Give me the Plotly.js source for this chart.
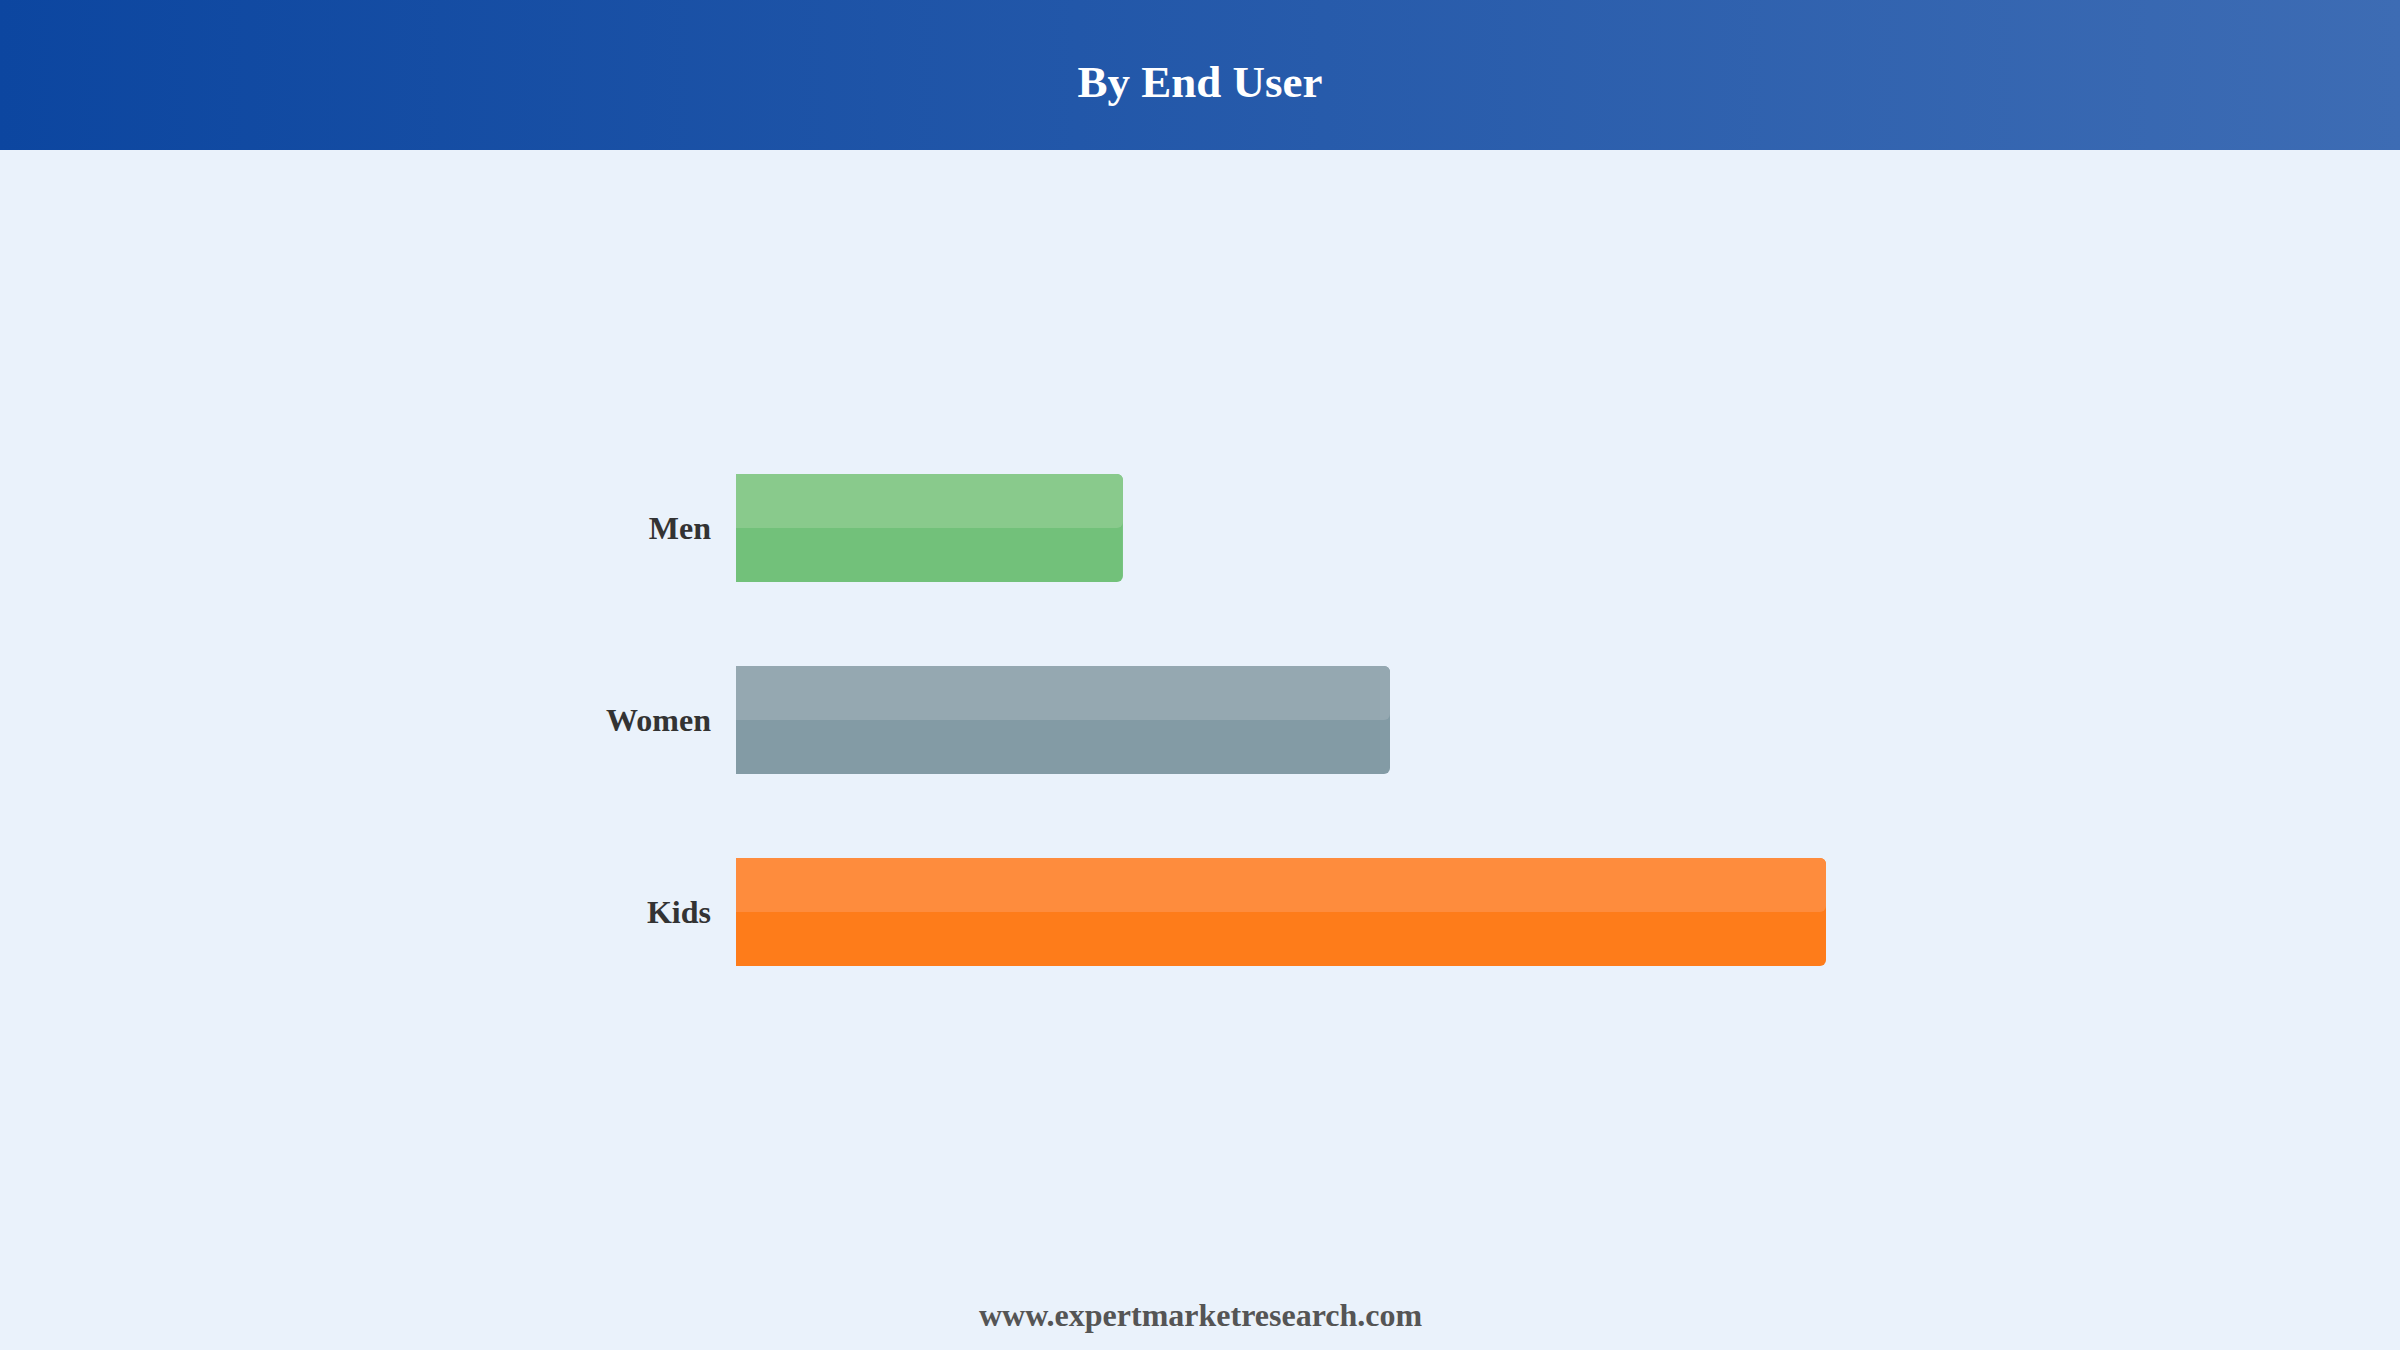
<!DOCTYPE html>
<html>
<head>
<meta charset="utf-8">
<script src="https://cdn.plot.ly/plotly-3.0.1.min.js"></script>
<style>
  html, body { margin: 0; padding: 0; }
  body {
    width: 2400px; height: 1350px; overflow: hidden;
    background: linear-gradient(to right, #0C46A0, #3D6CB4) top left / 100% 150px no-repeat, #EAF2FB;
  }
  #grafica { width: 2400px; height: 1350px; }
</style>
</head>
<body>
<div id="grafica"></div>
<script>
// Datos (escala relativa, Kids = 100)
let categorias = ['Men', 'Women', 'Kids'];
let valores    = [35.5, 60.0, 100.0];

// Colores: mitad inferior (oscuro) y mitad superior (claro)
let colores_base   = ['#72C17A', '#839BA5', '#FE7C1A'];
let colores_brillo = ['#89CA8C', '#95A8B1', '#FE8C3D'];

let ancho_barra = 0.5625;

// Margenes del area de dibujo (px)
let margen = { l: 736, r: 465, t: 432, b: 342 };
let ancho_area = 2400 - margen.l - margen.r;
let alto_area  = 1350 - margen.t - margen.b;

// barra completa
let traza_base = {
  type: 'bar',
  orientation: 'h',
  y: categorias,
  x: valores,
  width: ancho_barra,
  marker: { color: colores_base, line: { width: 0 } },
  hoverinfo: 'skip'
};

// mitad superior mas clara
let traza_brillo = {
  type: 'bar',
  orientation: 'h',
  y: categorias,
  x: valores,
  width: ancho_barra / 2,
  offset: -ancho_barra / 2,
  marker: { color: colores_brillo, line: { width: 0 } },
  hoverinfo: 'skip'
};

let fuente = '"Liberation Serif", "Times New Roman", serif';

let layout = {
  width: 2400,
  height: 1350,
  paper_bgcolor: 'rgba(0,0,0,0)',
  plot_bgcolor: 'rgba(0,0,0,0)',
  margin: margen,
  barmode: 'overlay',
  barcornerradius: 6,
  showlegend: false,
  title: {
    text: '<b>By End User</b>',
    font: { family: fuente, size: 45, color: '#FFFFFF' },
    x: 0.5, xanchor: 'center',
    yref: 'container', y: 1 - 81 / 1350, yanchor: 'middle'
  },
  xaxis: {
    range: [0, 110],
    visible: false,
    showgrid: false,
    zeroline: false,
    fixedrange: true
  },
  yaxis: {
    autorange: 'reversed',
    showgrid: false,
    zeroline: false,
    showline: false,
    ticks: '',
    ticklabelstandoff: 24,
    tickfont: { family: fuente, size: 32, color: '#333333', weight: 'bold' },
    fixedrange: true
  },
  annotations: [{
    text: '<b>www.expertmarketresearch.com</b>',
    xref: 'paper', yref: 'paper',
    x: (1200 - margen.l) / ancho_area, xanchor: 'center',
    y: -((1315 - (1350 - margen.b)) / alto_area), yanchor: 'middle',
    showarrow: false,
    font: { family: fuente, size: 32, color: '#555555' }
  }]
};

let config = { displayModeBar: false, staticPlot: true };

Plotly.newPlot('grafica', [traza_base, traza_brillo], layout, config);
</script>
</body>
</html>
